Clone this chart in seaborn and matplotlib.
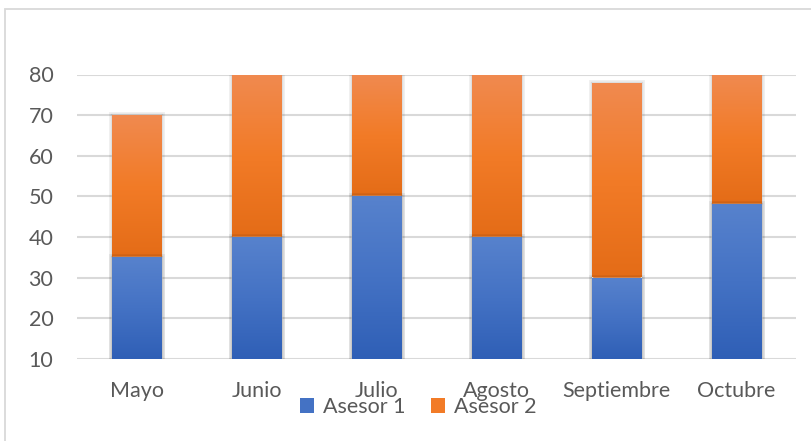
import numpy as np
import pandas as pd
import matplotlib
matplotlib.use("Agg")
import matplotlib.pyplot as plt
import matplotlib.patheffects as pe
from matplotlib.colors import LinearSegmentedColormap
from matplotlib.patches import Rectangle, Patch
import seaborn as sns

# ---- data ----
months = ["Mayo", "Junio", "Julio", "Agosto", "Septiembre", "Octubre"]
asesor1 = [35, 40, 50, 40, 30, 48]
asesor2 = [35, 40, 30, 40, 48, 32]
series_names = ["Asesor 1", "Asesor 2"]
yticks = [10, 20, 30, 40, 50, 60, 70, 80]

totals = [a + b for a, b in zip(asesor1, asesor2)]
df = pd.DataFrame({"mes": months, "a1": asesor1, "total": totals})

sns.set_theme(style="white")
plt.rcParams["font.family"] = ["Lato", "DejaVu Sans"]

TXT = "#595959"
GRID = "#d9d9d9"
FS = 15.5
orange_cmap = LinearSegmentedColormap.from_list(
    "or", ["#E46C17", "#F27B27", "#F08A50"])
blue_cmap = LinearSegmentedColormap.from_list(
    "bl", ["#2F5FB6", "#4472C4", "#5782CD"])

fig = plt.figure(figsize=(8.11, 4.41), dpi=100)
ax = fig.add_axes([77 / 811, 1 - 358.7 / 441, 719 / 811, (358.7 - 74.5) / 441])

sns.barplot(data=df, x="mes", y="total", color="#F27B27", width=0.41,
            saturation=1, ax=ax, label=series_names[1], zorder=2)
n = len(months)
sns.barplot(data=df, x="mes", y="a1", color="#4472C4", width=0.41,
            saturation=1, ax=ax, label=series_names[0], zorder=3)

ax.set_ylim(10, 80)
ax.set_xlim(-0.5, n - 0.5)

glow = [pe.Stroke(linewidth=5, foreground="#000000", alpha=0.06),
        pe.Stroke(linewidth=2.5, foreground="#000000", alpha=0.10),
        pe.Normal()]

grad = np.linspace(0, 1, 256).reshape(-1, 1)
patches = list(ax.patches)
for i, p in enumerate(patches):
    x0, w = p.get_x(), p.get_width()
    top = p.get_y() + p.get_height()
    if i < n:  # orange (total) bars, visible part from asesor1 to total
        lo, cmap, z = asesor1[i], orange_cmap, 2
    else:
        lo, cmap, z = 10, blue_cmap, 3
    p.set_path_effects(glow)
    im = ax.imshow(grad, cmap=cmap, origin="lower", aspect="auto",
                   extent=(x0, x0 + w, lo, top), zorder=z + 0.1,
                   interpolation="bilinear")
    im.set_clip_path(p)

ax.set_xlim(-0.5, n - 0.5)
ax.set_ylim(10, 80)
ax.set_yticks(yticks)
ax.yaxis.grid(True, color=GRID, linewidth=1.5, zorder=0)
ax.set_axisbelow(True)
for s in ax.spines.values():
    s.set_visible(False)
ax.set_xlabel("")
ax.set_ylabel("")
ax.tick_params(axis="y", length=0, pad=17, labelsize=FS, labelcolor=TXT)
ax.tick_params(axis="x", length=0, pad=16, labelsize=FS, labelcolor=TXT)
if ax.get_legend() is not None:
    ax.get_legend().remove()

handles = [Patch(facecolor="#4472C4", edgecolor="none"),
           Patch(facecolor="#F27B27", edgecolor="none")]
fig.legend(handles, series_names, loc="center", ncol=2,
           bbox_to_anchor=(418 / 811, 1 - 407 / 441), frameon=False,
           fontsize=FS, labelcolor=TXT, handlelength=0.65, handleheight=0.65,
           handletextpad=0.4, columnspacing=1.2, borderpad=0)

# outer chart frame
fig.patches.append(Rectangle((5 / 811, -0.1), 1.2, 1 - 9 / 441 + 0.1,
                             transform=fig.transFigure, fill=False,
                             edgecolor=GRID, linewidth=1.3))

fig.savefig("out.png", dpi=100)
